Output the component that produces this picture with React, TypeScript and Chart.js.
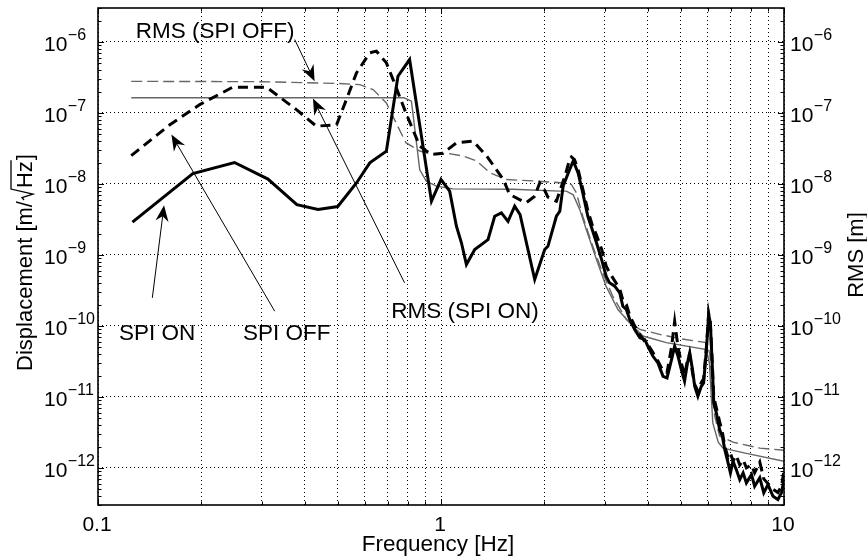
import React, { useEffect, useRef } from 'react';
import { Chart, registerables } from 'chart.js';

Chart.register(...registerables);

// ---------- data ----------
const onFreq = [0.126, 0.189, 0.25, 0.313, 0.38, 0.438, 0.5, 0.567, 0.62, 0.693, 0.749, 0.81, 0.938, 1.0, 1.06, 1.109, 1.147, 1.186, 1.254, 1.371, 1.434, 1.5, 1.568, 1.64, 1.7, 1.876, 2.006, 2.05, 2.17, 2.22, 2.27, 2.35, 2.43, 2.51, 2.59, 2.68, 2.77, 2.84, 2.94, 3.03, 3.1, 3.21, 3.32, 3.39, 3.47, 3.55, 3.67, 3.8, 3.93, 4.01, 4.15, 4.29, 4.44, 4.56, 4.7, 4.8, 4.91, 5.02, 5.13, 5.23, 5.31, 5.41, 5.49, 5.61, 5.74, 5.83, 5.94, 6.03, 6.1, 6.18, 6.24, 6.35, 6.49, 6.61, 6.72, 6.87, 6.98, 7.1, 7.26, 7.43, 7.6, 7.77, 8.04, 8.21, 8.5, 8.73, 8.98, 9.29, 9.6, 9.83, 10.0];
const onDisp = [2.9e-9, 1.4e-8, 2.0e-8, 1.17e-8, 5.1e-9, 4.35e-9, 4.8e-9, 1.03e-8, 1.98e-8, 2.88e-8, 3.28e-7, 5.64e-7, 5.7e-9, 1.15e-8, 7.9e-9, 2.53e-9, 1.48e-9, 7.3e-10, 1.19e-9, 1.64e-9, 3.5e-9, 3.9e-9, 2.97e-9, 4.84e-9, 3.7e-9, 4.5e-10, 1.19e-9, 1.32e-9, 3.5e-9, 4.11e-9, 9.25e-9, 1.43e-8, 2.1e-8, 1.43e-8, 7.46e-9, 3.5e-9, 2.15e-9, 1.48e-9, 8.59e-10, 5.0e-10, 4.04e-10, 3.62e-10, 2.92e-10, 1.89e-10, 1.7e-10, 1.23e-10, 8.87e-11, 6.78e-11, 6.41e-11, 5.16e-11, 3.73e-11, 3.01e-11, 1.95e-11, 1.85e-11, 3.35e-11, 5.16e-11, 3.73e-11, 2.43e-11, 1.66e-11, 3.01e-11, 4.17e-11, 2.43e-11, 1.41e-11, 1.02e-11, 1.41e-11, 1.57e-11, 4.63e-11, 1.44e-10, 1.1e-10, 2.7e-11, 8.22e-12, 5.95e-12, 3.46e-12, 2.79e-12, 1.81e-12, 1.18e-12, 8.5e-13, 1.24e-12, 9.46e-13, 6.84e-13, 8.5e-13, 6.15e-13, 8.05e-13, 5.51e-13, 7.23e-13, 4.45e-13, 5.82e-13, 3.98e-13, 3.58e-13, 4.45e-13, 6.84e-13];

const offFreq = [0.125, 0.162, 0.198, 0.247, 0.31, 0.379, 0.433, 0.496, 0.53, 0.567, 0.62, 0.648, 0.693, 0.725, 0.79, 0.867, 0.938, 1.013, 1.11, 1.24, 1.36, 1.52, 1.585, 1.77, 1.876, 1.94, 1.98, 2.05, 2.17, 2.3, 2.37, 2.4, 2.45, 2.51, 2.59, 2.68, 2.77, 2.84, 2.94, 3.03, 3.1, 3.21, 3.32, 3.39, 3.47, 3.55, 3.67, 3.8, 3.93, 4.01, 4.15, 4.29, 4.44, 4.56, 4.7, 4.8, 4.91, 5.02, 5.13, 5.23, 5.31, 5.41, 5.49, 5.61, 5.74, 5.83, 5.94, 6.03, 6.1, 6.18, 6.24, 6.35, 6.49, 6.61, 6.72, 6.87, 6.98, 7.1, 7.26, 7.43, 7.6, 7.77, 8.04, 8.21, 8.5, 8.73, 8.98, 9.29, 9.6, 9.83, 10.0];
const offDisp = [2.5e-8, 6.8e-8, 1.31e-7, 2.3e-7, 2.3e-7, 1.11e-7, 6.5e-8, 6.8e-8, 1.54e-7, 3.66e-7, 7.0e-7, 7.4e-7, 5.06e-7, 2.94e-7, 1.0e-7, 3.4e-8, 2.59e-8, 2.7e-8, 3.8e-8, 4.0e-8, 2.46e-8, 1.15e-8, 7.1e-9, 5.4e-9, 6.7e-9, 1.03e-8, 9.3e-9, 6.5e-9, 5.7e-9, 1.3e-8, 2.2e-8, 2.4e-8, 2.2e-8, 1.6e-8, 8.5e-9, 4.2e-9, 2.5e-9, 1.9e-9, 1.2e-9, 7e-10, 5.6e-10, 4.3e-10, 3.3e-10, 2.3e-10, 2.0e-10, 1.4e-10, 1.0e-10, 7.5e-11, 6.0e-11, 5.5e-11, 4.2e-11, 3.2e-11, 2.3e-11, 2.2e-11, 5.0e-11, 1.16e-10, 5.0e-11, 3.0e-11, 2.0e-11, 3.3e-11, 4.0e-11, 2.2e-11, 1.5e-11, 1.2e-11, 1.6e-11, 1.8e-11, 5.0e-11, 1.5e-10, 1.1e-10, 3.0e-11, 1.0e-11, 7e-12, 4.5e-12, 3.2e-12, 2.0e-12, 1.4e-12, 1.6e-12, 1.25e-12, 1.5e-12, 1.1e-12, 1.3e-12, 1.0e-12, 1.1e-12, 8.5e-13, 1.2e-12, 7e-13, 6e-13, 5e-13, 4.5e-13, 5.5e-13, 9e-13];

const rmsOffFreq = [0.125, 0.3, 0.5, 0.58, 0.634, 0.693, 0.74, 0.79, 0.867, 0.948, 1.04, 1.16, 1.27, 1.39, 1.55, 1.86, 2.29, 2.4, 2.48, 2.59, 2.77, 2.96, 3.17, 3.47, 3.8, 4.34, 4.97, 5.94, 6.08, 6.2, 6.28, 6.49, 7.1, 8.5, 10.0];
const rmsOffVal = [2.78e-7, 2.75e-7, 2.6e-7, 2.5e-7, 2.13e-7, 1.38e-7, 7.2e-8, 3.8e-8, 2.9e-8, 2.59e-8, 2.7e-8, 2.46e-8, 2.1e-8, 1.43e-8, 1.15e-8, 1.1e-8, 1.03e-8, 9.8e-9, 7.5e-9, 3.5e-9, 1.32e-9, 5.6e-10, 2.6e-10, 1.23e-10, 8.9e-11, 7.6e-11, 6.6e-11, 5.8e-11, 4.0e-11, 9e-12, 5.4e-12, 2.8e-12, 2.3e-12, 1.9e-12, 1.77e-12];

const rmsOnFreq = [0.125, 0.5, 0.78, 0.82, 0.867, 0.906, 0.97, 1.084, 1.62, 2.22, 2.32, 2.43, 2.54, 2.65, 2.84, 3.03, 3.28, 3.55, 3.88, 4.54, 5.94, 6.06, 6.2, 6.43, 6.64, 7.77, 10.0];
const rmsOnVal = [1.63e-7, 1.63e-7, 1.63e-7, 1.46e-7, 1.58e-8, 1.09e-8, 9.3e-9, 8.5e-9, 8.4e-9, 7.9e-9, 7.9e-9, 7.0e-9, 4.3e-9, 2.3e-9, 8.6e-10, 3.6e-10, 1.7e-10, 1.1e-10, 7.2e-11, 5.8e-11, 4.63e-11, 3.0e-11, 4.3e-12, 2.3e-12, 1.9e-12, 1.6e-12, 1.24e-12];

// ---------- axes ----------
const X_MIN = 0.1;
const X_MAX = 10;
const Y_MIN = 3e-13;
const Y_MAX = 3e-6;
const xTickValues = [0.1, 1, 10];
const xTickLabels = ['0.1', '1', '10'];
const yDecadeExps = [-12, -11, -10, -9, -8, -7, -6];
const minorFactors = [2, 3, 4, 5, 6, 7, 8, 9];
const xTitle = 'Frequency [Hz]';
const yTitleMain = 'Displacement [m/';
const yTitleRoot = 'Hz';
const yTitleEnd = ']';
const y2Title = 'RMS [m]';

// ---------- annotations (data coordinates) ----------
const annoTexts = ['RMS (SPI OFF)', 'RMS (SPI ON)', 'SPI ON', 'SPI OFF'];
const annoTextFreq = [0.1288, 0.7166, 0.1151, 0.2647];
const annoTextVal = [1.138e-6, 1.3e-10, 6.41e-11, 6.41e-11];
const arrowTailFreq = [0.3746, 0.783, 0.144, 0.3275];
const arrowTailVal = [1.077e-6, 4.04e-10, 2.48e-10, 1.61e-10];
const arrowTipFreq = [0.428, 0.4233, 0.1558, 0.1637];
const arrowTipVal = [2.79e-7, 1.59e-7, 5.0e-9, 4.94e-8];

const FONT = '"Liberation Sans", Arial, Helvetica, sans-serif';
const GRAY = '#666666';

function logGridValues(expFrom: number, expTo: number, min: number, max: number) {
  const out: number[] = [];
  for (let e = expFrom; e <= expTo; e++) {
    for (const f of [1, ...minorFactors]) {
      const v = f * Math.pow(10, e);
      if (v >= min * 0.999 && v <= max * 1.001) out.push(v);
    }
  }
  return out;
}

const xGridValues = logGridValues(-1, 1, X_MIN, X_MAX);
const yTickValues = logGridValues(-13, -6, Y_MIN, Y_MAX);

const pairs = (xs: number[], ys: number[]) => xs.map((x, i) => ({ x, y: ys[i] }));

function drawArrow(ctx: CanvasRenderingContext2D, x1: number, y1: number, x2: number, y2: number) {
  const dx = x2 - x1, dy = y2 - y1;
  const L = Math.hypot(dx, dy);
  const ux = dx / L, uy = dy / L;
  const nx = -uy, ny = ux;
  const len = 16, w = 6.5, notch = 5;
  ctx.beginPath();
  ctx.moveTo(x1, y1);
  ctx.lineTo(x2 - ux * (len - notch), y2 - uy * (len - notch));
  ctx.lineWidth = 1;
  ctx.stroke();
  const bx = x2 - ux * len, by = y2 - uy * len;
  ctx.beginPath();
  ctx.moveTo(x2, y2);
  ctx.lineTo(bx + nx * w, by + ny * w);
  ctx.lineTo(x2 - ux * (len - notch), y2 - uy * (len - notch));
  ctx.lineTo(bx - nx * w, by - ny * w);
  ctx.closePath();
  ctx.fill();
}

const decorPlugin = {
  id: 'decor',
  afterDraw(chart: any) {
    const { ctx, chartArea: a, scales } = chart;
    const xs = scales.x;
    const ys = scales.y;
    const ys2 = scales.y2;
    ctx.save();
    ctx.setLineDash([]);
    ctx.strokeStyle = '#000';
    ctx.fillStyle = '#000';

    // tick marks
    ctx.lineWidth = 1;
    ctx.beginPath();
    for (const v of yTickValues) {
      const isMajor = Math.abs(Math.log10(v) - Math.round(Math.log10(v))) < 1e-6;
      const len = isMajor ? 6 : 3.5;
      const py = Math.round(ys.getPixelForValue(v)) + 0.5;
      const py2 = Math.round(ys2.getPixelForValue(v)) + 0.5;
      ctx.moveTo(a.left, py);
      ctx.lineTo(a.left + len, py);
      ctx.moveTo(a.right, py2);
      ctx.lineTo(a.right - len, py2);
    }
    for (const v of xGridValues) {
      const isMajor = Math.abs(Math.log10(v) - Math.round(Math.log10(v))) < 1e-6;
      const len = isMajor ? 6 : 3.5;
      const px = Math.round(xs.getPixelForValue(v)) + 0.5;
      ctx.moveTo(px, a.bottom);
      ctx.lineTo(px, a.bottom - len);
      ctx.moveTo(px, a.top);
      ctx.lineTo(px, a.top + len);
    }
    ctx.stroke();

    // frame
    ctx.lineWidth = 1.6;
    ctx.strokeRect(a.left, a.top, a.right - a.left, a.bottom - a.top);

    // y tick labels (both sides)
    ctx.textBaseline = 'alphabetic';
    ctx.textAlign = 'left';
    for (const e of yDecadeExps) {
      const v = Math.pow(10, e);
      const sup = '\u2212' + Math.abs(e);
      const sides: [number, any][] = [[a.left - 54, ys], [a.right + 6, ys2]];
      for (const [lx, sc] of sides) {
        const py = sc.getPixelForValue(v);
        ctx.font = `21px ${FONT}`;
        ctx.fillText('10', lx, py + 9.5);
        const w = ctx.measureText('10').width;
        ctx.font = `16px ${FONT}`;
        ctx.fillText(sup, lx + w + 0.5, py - 2.3);
      }
    }

    // x tick labels
    ctx.textAlign = 'center';
    ctx.font = `21px ${FONT}`;
    xTickValues.forEach((v, i) => {
      ctx.fillText(xTickLabels[i], xs.getPixelForValue(v) - 1, a.bottom + 26);
    });

    // x title
    ctx.font = `22.5px ${FONT}`;
    ctx.fillText(xTitle, (a.left + a.right) / 2 - 3, a.bottom + 46);

    // left y title with radical
    ctx.save();
    ctx.translate(32, (a.top + a.bottom) / 2 + 6);
    ctx.rotate(-Math.PI / 2);
    ctx.font = `22px ${FONT}`;
    ctx.textAlign = 'left';
    const w1 = ctx.measureText(yTitleMain).width;
    const w2 = ctx.measureText(yTitleRoot).width;
    const w3 = ctx.measureText(yTitleEnd).width;
    const rw = 13;
    const total = w1 + rw + w2 + 1 + w3;
    const x0 = -total / 2;
    ctx.fillText(yTitleMain, x0, 0);
    const rx = x0 + w1;
    ctx.beginPath();
    ctx.moveTo(rx + 1, -8);
    ctx.lineTo(rx + 3.5, -10);
    ctx.lineTo(rx + 7, 1);
    ctx.lineTo(rx + 12, -21);
    ctx.lineTo(rx + rw + w2 + 1, -21);
    ctx.lineWidth = 1.3;
    ctx.stroke();
    ctx.fillText(yTitleRoot, rx + rw, 0);
    ctx.fillText(yTitleEnd, rx + rw + w2 + 1, 0);
    ctx.restore();

    // right y title
    ctx.save();
    ctx.translate(a.right + 79, (a.top + a.bottom) / 2 - 1.5);
    ctx.rotate(-Math.PI / 2);
    ctx.font = `22px ${FONT}`;
    ctx.textAlign = 'center';
    ctx.fillText(y2Title, 0, 0);
    ctx.restore();

    // annotations
    ctx.font = `22.5px ${FONT}`;
    ctx.textAlign = 'left';
    annoTexts.forEach((t, i) => {
      ctx.fillText(t, xs.getPixelForValue(annoTextFreq[i]), ys.getPixelForValue(annoTextVal[i]));
    });
    for (let i = 0; i < arrowTailFreq.length; i++) {
      drawArrow(
        ctx,
        xs.getPixelForValue(arrowTailFreq[i]),
        ys.getPixelForValue(arrowTailVal[i]),
        xs.getPixelForValue(arrowTipFreq[i]),
        ys.getPixelForValue(arrowTipVal[i])
      );
    }
    ctx.restore();
  },
};

export default function App() {
  const ref = useRef<HTMLCanvasElement | null>(null);

  useEffect(() => {
    if (!ref.current) return;
    const chart = new Chart(ref.current, {
      type: 'line',
      data: {
        datasets: [
          { label: 'SPI ON', data: pairs(onFreq, onDisp), borderColor: '#000', borderWidth: 3, yAxisID: 'y' },
          { label: 'SPI OFF', data: pairs(offFreq, offDisp), borderColor: '#000', borderWidth: 3, borderDash: [10, 6], yAxisID: 'y' },
          { label: 'RMS (SPI ON)', data: pairs(rmsOnFreq, rmsOnVal), borderColor: GRAY, borderWidth: 1.4, yAxisID: 'y2' },
          { label: 'RMS (SPI OFF)', data: pairs(rmsOffFreq, rmsOffVal), borderColor: GRAY, borderWidth: 1.4, borderDash: [11, 5], yAxisID: 'y2' },
        ],
      },
      options: {
        animation: false,
        responsive: false,
        devicePixelRatio: 1,
        layout: { padding: { left: 98, right: 83, top: 8, bottom: 55 }, autoPadding: false },
        elements: { point: { radius: 0 }, line: { tension: 0, borderCapStyle: 'butt', borderJoinStyle: 'miter' } },
        plugins: { legend: { display: false }, tooltip: { enabled: false }, title: { display: false } },
        scales: {
          x: {
            type: 'logarithmic',
            min: X_MIN,
            max: X_MAX,
            ticks: { display: false },
            grid: { color: '#000', lineWidth: 1, drawTicks: false },
            border: { display: false, dash: [1, 3] },
            afterBuildTicks: (axis: any) => {
              axis.ticks = xGridValues.map((value) => ({ value }));
            },
          },
          y: {
            type: 'logarithmic',
            min: Y_MIN,
            max: Y_MAX,
            ticks: { display: false },
            grid: { color: '#000', lineWidth: 1, drawTicks: false },
            border: { display: false, dash: [1, 3] },
            afterBuildTicks: (axis: any) => {
              axis.ticks = yDecadeExps.map((e) => ({ value: Math.pow(10, e) }));
            },
          },
          y2: {
            type: 'logarithmic',
            position: 'right',
            min: Y_MIN,
            max: Y_MAX,
            ticks: { display: false },
            grid: { drawOnChartArea: false, drawTicks: false },
            border: { display: false },
          },
        },
      } as any,
      plugins: [decorPlugin],
    });
    return () => chart.destroy();
  }, []);

  return (
    <div style={{ position: 'fixed', left: 0, top: 0, width: 867, height: 560, background: '#fff' }}>
      <canvas ref={ref} width={867} height={560} style={{ display: 'block' }} />
    </div>
  );
}
